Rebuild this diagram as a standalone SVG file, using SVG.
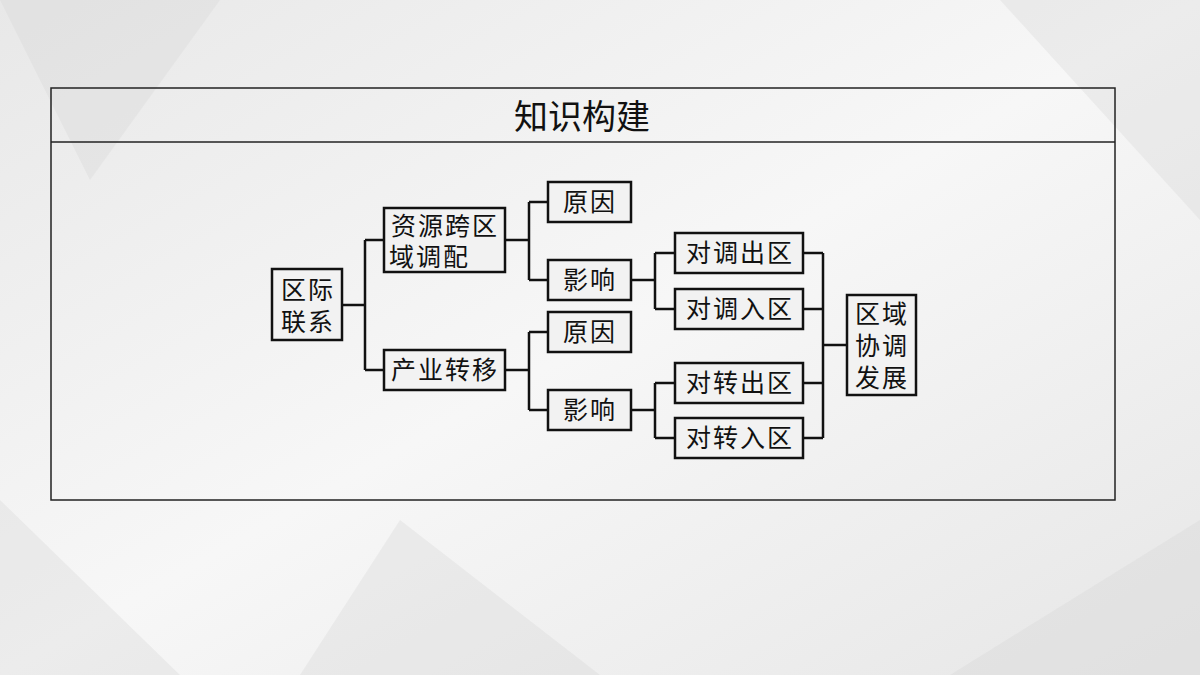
<svg xmlns="http://www.w3.org/2000/svg" width="1200" height="675" viewBox="0 0 1200 675">
<style>
.b{fill:#f2f2f2;stroke:#111;stroke-width:2.5}
.t{font-family:"Noto Sans CJK SC",sans-serif;font-size:25px;letter-spacing:2px;fill:#111;text-anchor:middle}
.c{fill:none;stroke:#111;stroke-width:2.5}
</style>
<defs><linearGradient id="bg" x1="0" y1="0" x2="1" y2="1"><stop offset="0" stop-color="#e8e8e8"/><stop offset="0.5" stop-color="#f7f7f7"/><stop offset="1" stop-color="#e6e6e6"/></linearGradient></defs>
<rect width="1200" height="675" fill="url(#bg)"/>
<g opacity="0.35" fill="#d8d8d8"><polygon points="0,0 220,0 90,180"/><polygon points="1000,0 1200,0 1200,220"/><polygon points="0,500 180,675 0,675"/><polygon points="950,675 1200,520 1200,675"/><polygon points="400,520 600,675 300,675"/></g>
<g id="frame"><rect x="51" y="88" width="1064" height="412" fill="none" stroke="#222" stroke-width="1.5"/><line x1="51" y1="142" x2="1115" y2="142" stroke="#222" stroke-width="1.5"/>
<text x="582" y="129" font-family="Noto Sans CJK SC,sans-serif" font-size="34" text-anchor="middle" fill="#111">知识构建</text></g>
<g id="connectors">
<path class="c" d="M342 305H365M365 240V370M365 240H384M365 370H384"/>
<path class="c" d="M505 240H529M529 202V280M529 202H548M529 280H548"/>
<path class="c" d="M505 370H529M529 332V410M529 332H548M529 410H548"/>
<path class="c" d="M631 280H655M655 253V309M655 253H675M655 309H675"/>
<path class="c" d="M631 410H655M655 383V438M655 383H675M655 438H675"/>
<path class="c" d="M803 253H823M803 309H823M803 383H823M803 438H823M823 253V438M823 345H847"/>
</g>
<g id="n1"><rect class="b" x="272" y="269" width="70" height="71"/><text class="t" x="308" y="299">区际</text><text class="t" x="308" y="331">联系</text></g>
<g id="n2"><rect class="b" x="384" y="208" width="121" height="64"/><text class="t" x="445" y="235">资源跨区</text><text class="t" x="389" y="266" style="text-anchor:start">域调配</text></g>
<g id="n3"><rect class="b" x="384" y="350" width="121" height="40"/><text class="t" x="445" y="379">产业转移</text></g>
<g id="n4"><rect class="b" x="548" y="182" width="83" height="40"/><text class="t" x="590" y="211">原因</text></g>
<g id="n5"><rect class="b" x="548" y="260" width="83" height="40"/><text class="t" x="590" y="289">影响</text></g>
<g id="n6"><rect class="b" x="548" y="312" width="83" height="40"/><text class="t" x="590" y="341">原因</text></g>
<g id="n7"><rect class="b" x="548" y="390" width="83" height="40"/><text class="t" x="590" y="419">影响</text></g>
<g id="n8"><rect class="b" x="675" y="233" width="128" height="40"/><text class="t" x="740" y="262">对调出区</text></g>
<g id="n9"><rect class="b" x="675" y="289" width="128" height="40"/><text class="t" x="740" y="318">对调入区</text></g>
<g id="n10"><rect class="b" x="675" y="363" width="128" height="40"/><text class="t" x="740" y="392">对转出区</text></g>
<g id="n11"><rect class="b" x="675" y="418" width="128" height="40"/><text class="t" x="740" y="447">对转入区</text></g>
<g id="n12"><rect class="b" x="847" y="295" width="69" height="100"/><text class="t" x="882" y="323">区域</text><text class="t" x="882" y="355">协调</text><text class="t" x="882" y="387">发展</text></g>
</svg>
